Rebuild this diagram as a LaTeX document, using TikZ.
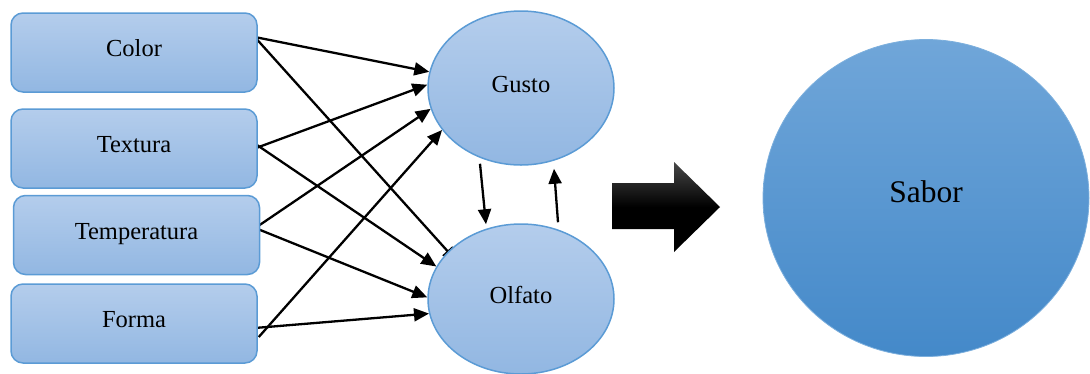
\documentclass[tikz,border=0pt]{standalone}
\usepackage{fontspec}
\setmainfont{Liberation Serif}
\usetikzlibrary{arrows.meta,calc,shapes.geometric,backgrounds}

\definecolor{boxtop}{RGB}{180,205,236}
\definecolor{boxbot}{RGB}{146,183,226}
\definecolor{boxedge}{RGB}{91,155,213}
\definecolor{sabtop}{RGB}{112,166,217}
\definecolor{sabbot}{RGB}{68,137,201}

\begin{document}
\begin{tikzpicture}[x=1pt,y=-1pt,
  factor/.style={draw=boxedge, line width=1.5pt, rounded corners=12pt,
    top color=boxtop, bottom color=boxbot,
    minimum width=246pt, minimum height=79pt, inner sep=0pt,
    font=\fontsize{24.5}{28}\selectfont, text height=16pt, text depth=8pt},
  sense/.style={ellipse, draw=boxedge, line width=1.5pt,
    top color=boxtop, bottom color=boxbot, inner sep=0pt,
    minimum width=186pt, font=\fontsize{24.5}{28}\selectfont,
    text height=16pt, text depth=7pt},
  link/.style={line width=2.3pt, -{Triangle[length=15pt,width=13pt]}},
]
\useasboundingbox (0,0) rectangle (1090,373);

% input factors
\node[factor] (color) at (134,52.5)  {Color};
\node[factor] (textura) at (134,148.5) {Textura};
\node[factor] (temp) at (136.5,235)  {Temperatura};
\node[factor] (forma) at (134,323.5) {Forma};

% senses
\node[sense, minimum height=154pt] (gusto) at (521,88) {Gusto};
\node[sense, minimum height=150pt] (olfato) at (521,299) {Olfato};

% result
\node[ellipse, draw=boxedge!80, line width=0.8pt, top color=sabtop, bottom color=sabbot,
      minimum width=326pt, minimum height=317pt, inner sep=0pt,
      font=\fontsize{31.5}{36}\selectfont, text height=21pt, text depth=12pt]
      (sabor) at (926,198) {Sabor};

% start points on the factor boxes
\coordinate (c1) at ($(color.east)+(-3,-15.5)$);
\coordinate (t1) at ($(textura.east)+(-3,0)$);
\coordinate (t2) at ($(textura.east)+(-3,-5)$);
\coordinate (p1) at ($(temp.east)+(-5,-7)$);
\coordinate (f1) at ($(forma.east)+(-3,4.5)$);
\coordinate (f2) at ($(forma.east)+(1,13.5)$);

\begin{pgfonlayer}{background}
  % to Gusto
  \draw[link] (c1) -- (gusto.170.8);
  \draw[link] (t1) -- (gusto.178);
  \draw[link] (p1) -- (gusto.193);
  \draw[link] (f2) -- (gusto.208.5);
  % to Olfato
  \draw[link, shorten >=-14pt] (c1) -- (olfato.147);
  \draw[link] (t2) -- (olfato.159);
  \draw[link] (p1) -- (olfato.179);
  \draw[link] (f1) -- (olfato.189);
\end{pgfonlayer}

% exchange between the senses
\draw[link] ($(gusto.south)+(-41,-2)$) -- ($(olfato.north)+(-35,1)$);
\draw[link] ($(olfato.north)+(37,-1)$) -- ($(gusto.south)+(33,3)$);

% block arrow towards the result
\shade[top color=black!72, bottom color=black, middle color=black]
  (612,183) -- (674,183) -- (674,162) -- (720,207) -- (674,252)
  -- (674,229) -- (612,229) -- cycle;
\end{tikzpicture}
\end{document}
